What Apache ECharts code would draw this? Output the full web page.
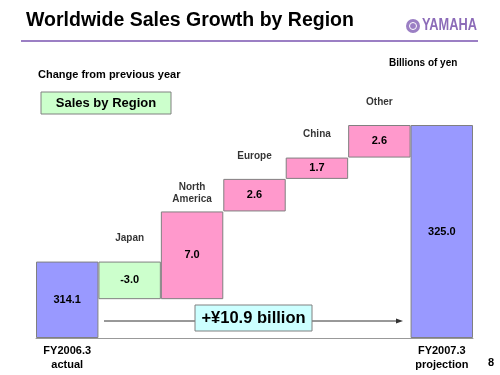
<!DOCTYPE html>
<html>
<head>
<meta charset="utf-8">
<script src="https://cdn.jsdelivr.net/npm/echarts@6/dist/echarts.min.js"></script>
<style>
  html, body { margin: 0; padding: 0; background: #fff; }
  #chart { width: 500px; height: 375px; }
</style>
</head>
<body>
<div id="chart"></div>
<script>
// categories: first and last are totals, the rest are regional changes
const categories = ['FY2006.3\nactual', 'Japan', 'North\nAmerica', 'Europe', 'China', 'Other', 'FY2007.3\nprojection']
const startTotal = 314.1
const changes = [-3.0, 7.0, 2.6, 1.7, 2.6]
const endTotal = 325.0
const growthText = '+\u00a510.9 billion'
const axisMin = 308
const axisMax = 325

const font = 'Liberation Sans, Arial, sans-serif'
const blue = '#9999FF'
const green = '#CCFFCC'
const pink = '#FF99CC'

// waterfall: invisible base + visible step
const base = []
const step = []
const labels = []
const tops = []
base.push(axisMin)
step.push(startTotal - axisMin)
labels.push(startTotal.toFixed(1))
tops.push('-')
let level = startTotal
changes.forEach(c => {
  const lo = Math.min(level, level + c)
  base.push(+lo.toFixed(2))
  step.push(Math.abs(c))
  labels.push(c.toFixed(1))
  level = level + c
  tops.push(+(lo + Math.abs(c)).toFixed(2))
})
base.push(axisMin)
step.push(endTotal - axisMin)
labels.push(endTotal.toFixed(1))
tops.push('-')

const chart = echarts.init(document.getElementById('chart'))

chart.setOption({
  animation: false,
  grid: { left: 36, right: 27, top: 125, bottom: 37 },
  xAxis: {
    type: 'category',
    data: categories,
    axisLine: { lineStyle: { color: '#999', width: 1 } },
    axisTick: { inside: true, length: 3, interval: 0, lineStyle: { color: '#999' } },
    axisLabel: {
      interval: 0,
      margin: 6,
      color: '#000',
      fontFamily: font,
      fontWeight: 'bold',
      fontSize: 11,
      lineHeight: 14,
      formatter: (v, i) => (i === 0 || i === categories.length - 1 ? v : '')
    }
  },
  yAxis: { type: 'value', min: axisMin, max: axisMax, show: false },
  series: [
    {
      type: 'bar',
      stack: 'w',
      data: base,
      barCategoryGap: '0%',
      itemStyle: { color: 'transparent' },
      silent: true
    },
    {
      type: 'bar',
      stack: 'w',
      barCategoryGap: '0%',
      data: step.map((v, i) => ({
        value: +v.toFixed(2),
        itemStyle: {
          color: i === 0 || i === step.length - 1 ? blue : (changes[i - 1] < 0 ? green : pink)
        }
      })),
      itemStyle: { borderColor: '#808080', borderWidth: 1 },
      label: {
        show: true,
        position: 'inside',
        color: '#000',
        fontFamily: font,
        fontWeight: 'bold',
        fontSize: 11,
        formatter: p => labels[p.dataIndex]
      }
    },
    {
      type: 'scatter',
      symbolSize: 0,
      data: tops.map((v, i) => ({
        value: v,
        label: { distance: categories[i].indexOf('\n') > 0 ? 6 : 17 }
      })),
      label: {
        show: true,
        position: 'top',
        color: '#000',
        fontFamily: font,
        fontWeight: 'bold',
        fontSize: 10,
        lineHeight: 12,
        align: 'center',
        formatter: p => categories[p.dataIndex]
      },
      silent: true
    }
  ],
  graphic: [
    {
      type: 'text', left: 26, top: 11,
      style: { text: 'Worldwide Sales Growth by Region', font: 'bold 19.5px ' + font, fill: '#000' }
    },
    {
      type: 'line', shape: { x1: 21, y1: 41, x2: 478, y2: 41 },
      style: { stroke: '#9B7FC4', lineWidth: 2 }
    },
    {
      type: 'circle', shape: { cx: 413, cy: 26, r: 7 },
      style: { fill: '#9B7FC4' }
    },
    {
      type: 'circle', shape: { cx: 413, cy: 26, r: 3.5 },
      style: { fill: 'none', stroke: '#fff', lineWidth: 1 }
    },
    {
      type: 'text', x: 422, y: 26, scaleX: 0.8,
      style: { text: 'YAMAHA', font: 'bold 16px ' + font, fill: '#8C6BB8', textVerticalAlign: 'middle' }
    },
    {
      type: 'text', left: 389, top: 58,
      style: { text: 'Billions of yen', font: 'bold 10px ' + font, fill: '#000' }
    },
    {
      type: 'text', left: 38, top: 69,
      style: { text: 'Change from previous year', font: 'bold 11px ' + font, fill: '#000' }
    },
    {
      type: 'rect', shape: { x: 41, y: 92, width: 130, height: 22 },
      style: { fill: '#CCFFCC', stroke: '#808080', lineWidth: 1 }
    },
    {
      type: 'text', x: 106, y: 103,
      style: { text: 'Sales by Region', font: 'bold 13px ' + font, fill: '#000', textAlign: 'center', textVerticalAlign: 'middle' }
    },
    {
      type: 'line', shape: { x1: 104, y1: 321, x2: 398, y2: 321 },
      style: { stroke: '#333', lineWidth: 1 }
    },
    {
      type: 'polygon', shape: { points: [[403, 321], [396, 318.5], [396, 323.5]] },
      style: { fill: '#333' }
    },
    {
      type: 'rect', z: 10, shape: { x: 195, y: 305, width: 117, height: 26 },
      style: { fill: '#CCFFFF', stroke: '#808080', lineWidth: 1 }
    },
    {
      type: 'text', z: 11, x: 253.5, y: 318.5,
      style: { text: growthText, font: 'bold 16.5px ' + font, fill: '#000', textAlign: 'center', textVerticalAlign: 'middle' }
    },
    {
      type: 'text', left: 488, top: 357,
      style: { text: '8', font: 'bold 11px ' + font, fill: '#000' }
    }
  ]
})
</script>
</body>
</html>
